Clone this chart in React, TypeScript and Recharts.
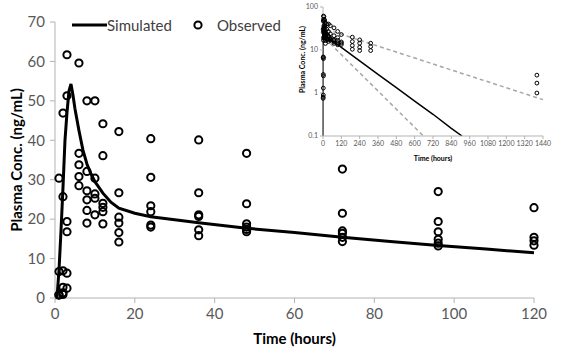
import React from 'react'
import { ComposedChart, Line, Scatter, XAxis, YAxis } from 'recharts'

// simulated profile (main panel)
const simTime = [0, 0.5, 1, 1.5, 2, 2.5, 3, 3.5, 4, 4.5, 5, 6, 7, 8, 9, 10, 12, 14, 16, 20, 24, 36, 48, 60, 72, 84, 96, 108, 120]
const simConc = [0, 0.1, 7, 17, 28, 40, 47, 52.5, 54.3, 51.5, 48, 42.5, 37.5, 34, 31.5, 29.5, 26.6, 24.3, 22.8, 21.5, 20.6, 19.1, 17.7, 16.6, 15.4, 14.3, 13.3, 12.4, 11.5]

// simulated tail, only seen in the inset
const tailTime = [240, 360, 480, 600, 720, 840, 910]
const tailConc = [5.6, 2.7, 1.33, 0.65, 0.32, 0.15, 0.1]

// dashed bounds in the inset
const upperTime = [24, 1440]
const upperConc = [30, 0.7]
const lowerTime = [48, 657]
const lowerConc = [14, 0.1]

// observed
const obsTime = [1, 2, 3, 6, 8, 10, 12, 16, 24, 36, 48, 72, 96, 120]
const obsConc = [
  [30.4, 6.7, 0.8, 0.75],
  [46.9, 25.7, 6.9, 2.7, 1.3, 0.9],
  [61.7, 51.3, 19.4, 16.8, 6.3, 2.5],
  [59.6, 36.7, 33.8, 30.8, 28.5],
  [50, 32.1, 27.2, 24.9, 22.2, 19.0],
  [50, 30.4, 26.4, 25.3, 21.1],
  [44.2, 36.1, 24.0, 23.0, 21.9, 18.8],
  [42.2, 26.7, 20.5, 19.0, 16.6, 14.2],
  [40.4, 30.6, 23.4, 21.9, 18.5, 18.0],
  [40.1, 26.7, 21.1, 20.7, 17.3, 15.8],
  [36.7, 23.9, 18.8, 18.0, 17.4, 16.8],
  [32.7, 21.5, 17.0, 16.4, 15.4, 14.3],
  [27.0, 19.4, 16.8, 14.9, 13.9, 13.2],
  [22.9, 15.4, 14.5, 13.4],
]
const lateTime = [192, 240, 312, 1400]
const lateConc = [
  [19.9, 15.7, 12.7, 10.4],
  [17.2, 14.4, 11.6, 9.7],
  [14.4, 12, 9.7],
  [2.6, 1.7, 1.0],
]

const xTicks = [0, 20, 40, 60, 80, 100, 120]
const yTicks = [0, 10, 20, 30, 40, 50, 60, 70]
const insetXTicks = [0, 120, 240, 360, 480, 600, 720, 840, 960, 1080, 1200, 1320, 1440]
const insetYTicks = [0.1, 1, 10, 100]

const zip = (xs: number[], ys: number[]) => xs.map((x, i) => ({ x, y: ys[i] }))
const flat = (ts: number[], groups: number[][]) => ts.flatMap((t, i) => groups[i].map((y) => ({ x: t, y })))

const simData = zip(simTime, simConc)
const obsData = flat(obsTime, obsConc)
const insetSim = [...simData.filter((d) => d.y > 0), ...zip(tailTime, tailConc)]
const insetObs = [...obsData, ...flat(lateTime, lateConc)]
const upperData = zip(upperTime, upperConc)
const lowerData = zip(lowerTime, lowerConc)

const bigCircle = (p: any) => <circle cx={p.cx} cy={p.cy} r={3.6} fill="none" stroke="#000" strokeWidth={2} />
const smallCircle = (p: any) => <circle cx={p.cx} cy={p.cy} r={1.9} fill="none" stroke="#000" strokeWidth={1} />

const axisGray = '#b3b3b3'
const tickGray = '#595959'

export default function App() {
  return (
    <div style={{ position: 'relative', width: 561, height: 353, fontFamily: 'Lato, sans-serif', background: '#fff' }}>
      <style>{'body{margin:0}'}</style>
      <ComposedChart width={561} height={353} margin={{ top: 22, right: 27, bottom: 0, left: 0 }}>
        <XAxis
          type="number"
          dataKey="x"
          domain={[0, 120]}
          ticks={xTicks}
          height={55}
          tickSize={5}
          tickMargin={5}
          stroke={axisGray}
          tick={{ fill: tickGray, fontSize: 15 }}
          label={{ value: 'Time (hours)', position: 'insideBottom', offset: 9, style: { fontWeight: 700, fontSize: 15, fill: '#000' } }}
        />
        <YAxis
          type="number"
          dataKey="y"
          domain={[0, 70]}
          ticks={yTicks}
          width={55}
          tickSize={5}
          tickMargin={5}
          stroke={axisGray}
          tick={{ fill: tickGray, fontSize: 15 }}
          label={{ value: 'Plasma Conc. (ng/mL)', angle: -90, position: 'insideLeft', offset: 17, style: { textAnchor: 'middle', fontWeight: 700, fontSize: 15, fill: '#000' } }}
        />
        <Line data={simData} dataKey="y" type="linear" stroke="#000" strokeWidth={3} dot={false} isAnimationActive={false} />
        <Scatter data={obsData} dataKey="y" shape={bigCircle} isAnimationActive={false} />
      </ComposedChart>

      <div style={{ position: 'absolute', left: 72, top: 15, display: 'flex', alignItems: 'center', fontSize: 15, color: '#404040', whiteSpace: 'nowrap' }}>
        <svg width={35} height={20}>
          <line x1={0} y1={10} x2={35} y2={10} stroke="#000" strokeWidth={3} />
        </svg>
        <span>Simulated</span>
        <svg width={44} height={20}>
          <circle cx={26} cy={10} r={3.6} fill="none" stroke="#000" strokeWidth={2} />
        </svg>
        <span style={{ marginLeft: 1 }}>Observed</span>
      </div>

      <div style={{ position: 'absolute', left: 290, top: 0 }}>
        <ComposedChart width={265} height={165} margin={{ top: 7, right: 12, bottom: 0, left: 0 }}>
          <XAxis
            type="number"
            dataKey="x"
            domain={[0, 1440]}
            ticks={insetXTicks}
            height={29}
            tickSize={3}
            interval={0}
            stroke={axisGray}
            tick={{ fill: tickGray, fontSize: 7 }}
            label={{ value: 'Time (hours)', position: 'insideBottom', offset: 4, style: { fontWeight: 700, fontSize: 7, fill: '#000' } }}
          />
          <YAxis
            type="number"
            dataKey="y"
            scale="log"
            domain={[0.1, 100]}
            allowDataOverflow
            ticks={insetYTicks}
            tickFormatter={(v: number) => String(v)}
            width={33}
            tickSize={3}
            stroke={axisGray}
            tick={{ fill: tickGray, fontSize: 7 }}
            label={{ value: 'Plasma Conc. (ng/mL)', angle: -90, position: 'insideLeft', offset: 13, dy: -12, style: { textAnchor: 'middle', fontWeight: 700, fontSize: 7, fill: '#000' } }}
          />
          <Line data={upperData} dataKey="y" type="linear" stroke="#a6a6a6" strokeWidth={1.5} strokeDasharray="4 3" dot={false} isAnimationActive={false} />
          <Line data={lowerData} dataKey="y" type="linear" stroke="#a6a6a6" strokeWidth={1.5} strokeDasharray="4 3" dot={false} isAnimationActive={false} />
          <Line data={insetSim} dataKey="y" type="linear" stroke="#000" strokeWidth={1.5} dot={false} isAnimationActive={false} />
          <Scatter data={insetObs} dataKey="y" shape={smallCircle} isAnimationActive={false} />
        </ComposedChart>
      </div>
    </div>
  )
}
